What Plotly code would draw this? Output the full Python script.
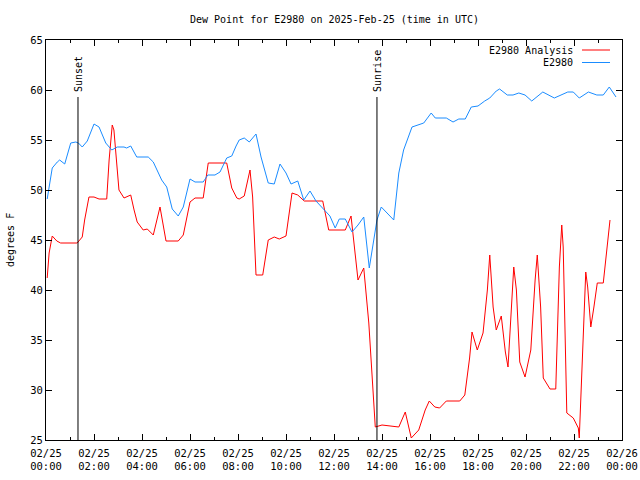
import pandas as pd
import plotly.graph_objects as go

# ---- data (hours after 2025-02-25 00:00 UTC, dew point degF) ----
obs_hours = [0.05, 0.26, 0.47, 0.57, 0.78, 0.92, 1.03, 1.24, 1.35, 1.51, 1.72, 2.0, 2.21, 2.49,
             2.74, 2.97, 3.25, 3.36, 3.53, 3.78, 4.26, 4.47, 4.68, 4.82, 5.03, 5.26, 5.51, 5.72,
             6.0, 6.21, 6.55, 6.74, 7.04, 7.25, 7.53, 7.74, 7.92, 8.05, 8.26, 8.47, 8.75, 8.96,
             9.26, 9.51, 9.75, 10.0, 10.21, 10.49, 10.74, 11.0, 11.25, 11.55, 11.83, 12.05, 12.22,
             12.47, 12.75, 13.0, 13.24, 13.47, 13.65, 13.79, 13.97, 14.49, 14.70, 14.90, 15.25,
             15.74, 16.05, 16.22, 16.68, 16.96, 17.2, 17.47, 17.72, 18.0, 18.28, 18.49, 18.76,
             18.9, 19.22, 19.46, 19.7, 19.96, 20.24, 20.7, 21.18, 21.74, 21.97, 22.22, 22.6,
             22.95, 23.22, 23.47, 23.75]
obs_values = [49.1, 52.2, 52.8, 53.0, 52.6, 53.8, 54.7, 54.8, 54.7, 54.3, 54.9, 56.6, 56.3, 54.7,
              54.0, 54.3, 54.3, 54.2, 54.4, 53.3, 53.3, 52.8, 51.7, 51.0, 50.3, 48.1, 47.4, 48.3,
              51.1, 50.8, 50.8, 51.5, 51.5, 51.8, 53.2, 53.4, 54.4, 55.0, 55.2, 54.8, 55.6, 53.3,
              50.7, 50.6, 52.6, 51.7, 50.6, 50.9, 49.0, 49.9, 48.9, 48.1, 47.4, 46.2, 47.1,
              47.1, 45.8, 46.5, 47.3, 42.2, 45.0, 47.0, 48.3, 47.0, 51.7, 54.0, 56.3,
              56.7, 57.7, 57.2, 57.2, 56.8, 57.1, 57.1, 58.3, 58.4, 58.9, 59.2, 59.9,
              60.1, 59.5, 59.5, 59.7, 59.5, 58.9, 59.8, 59.2, 59.8, 59.8, 59.2, 59.8,
              59.5, 59.5, 60.3, 59.3]

ana_hours = [0.05, 0.13, 0.26, 0.45, 0.61, 1.30, 1.51, 1.61, 1.79, 2.0, 2.21, 2.53, 2.63, 2.76,
             2.83, 2.95, 3.04, 3.25, 3.53, 3.67, 3.80, 4.05, 4.22, 4.47, 4.75, 5.0, 5.51, 5.72,
             6.0, 6.21, 6.55, 6.76, 7.53, 7.74, 7.95, 8.05, 8.26, 8.5, 8.61, 8.75, 9.03, 9.26,
             9.51, 9.72, 10.0, 10.25, 10.49, 10.76, 11.53, 11.78, 12.47, 12.71, 12.82, 13.0,
             13.24, 13.45, 13.65, 13.72, 14.0, 14.70, 14.97, 15.22, 15.53, 15.80, 15.97, 16.2,
             16.4, 16.68, 17.24, 17.45, 17.65, 17.75, 17.97, 18.21, 18.39, 18.49, 18.63, 18.76,
             18.97, 19.14, 19.25, 19.36, 19.49, 19.6, 19.74, 19.96, 20.2, 20.38, 20.47, 20.61,
             20.72, 21.0, 21.24, 21.39, 21.49, 21.55, 21.7, 21.97, 22.18, 22.22, 22.29, 22.39,
             22.49, 22.57, 22.7, 22.83, 22.97, 23.22, 23.39, 23.5]
ana_values = [41.2, 43.7, 45.4, 44.9, 44.7, 44.7, 45.3, 47.0, 49.3, 49.3, 49.1, 49.1, 53.0, 56.5,
              56.0, 52.7, 50.0, 49.2, 49.5, 48.0, 46.8, 46.0, 46.1, 45.5, 48.3, 44.9, 44.9, 45.5,
              48.8, 49.2, 49.2, 52.7, 52.7, 50.2, 49.2, 49.1, 49.4, 52.0, 49.3, 41.5, 41.5, 45.0,
              45.3, 45.1, 45.4, 49.7, 49.5, 48.9, 48.9, 46.0, 46.0, 47.4, 45.0, 41.0,
              42.2, 36.7, 29.0, 26.3, 26.5, 26.3, 27.8, 25.2, 26.0, 28.0, 28.9, 28.3,
              28.2, 28.9, 28.9, 29.5, 33.2, 35.8, 34.0, 35.7, 40.0, 43.5, 38.3, 36.0,
              37.4, 33.8, 32.3, 37.3, 42.3, 40.0, 32.8, 31.3, 34.0, 41.0, 43.5, 38.3,
              31.2, 30.1, 30.1, 42.3, 46.5, 44.3, 27.7, 27.2, 26.2, 25.2, 29.3, 35.0,
              41.8, 40.3, 36.3, 38.3, 40.7, 40.7, 44.3, 47.0]

events = ["Sunset", "Sunrise"]
event_hours = [1.333, 13.79]

series_names = ["E2980 Analysis", "E2980"]
series_colors = ["#ff0000", "#1a8cff"]

base = pd.Timestamp("2025-02-25 00:00")
def to_time(hours):
    return [base + pd.Timedelta(hours=h) for h in hours]

FONT = "DejaVu Sans Mono"
L, R, T, B = 46, 18, 40, 40
W, H = 640, 480
PW, PH = W - L - R, H - T - B

def px(xp):
    return (xp - L) / PW

def py(yp):
    return (H - B - yp) / PH

fig = go.Figure()
fig.add_trace(go.Scatter(x=to_time(ana_hours), y=ana_values, mode="lines",
                         name=series_names[0], line=dict(color=series_colors[0], width=1)))
fig.add_trace(go.Scatter(x=to_time(obs_hours), y=obs_values, mode="lines",
                         name=series_names[1], line=dict(color=series_colors[1], width=1)))

shapes = []
annotations = []
for name, h in zip(events, event_hours):
    t = base + pd.Timedelta(hours=h)
    shapes.append(dict(type="line", xref="x", yref="y", x0=t, x1=t, y0=25, y1=59.3,
                       line=dict(color="black", width=1)))
    annotations.append(dict(x=t, y=59.6, xref="x", yref="y", text=name, textangle=-90,
                            showarrow=False, xanchor="center", yanchor="bottom",
                            font=dict(family=FONT, size=10, color="black")))

# legend (text right, sample line on right like the reference)
for i, (nm, col) in enumerate(zip(series_names, series_colors)):
    ypix = 50 + i * 12.5
    annotations.append(dict(x=px(575), y=py(ypix), xref="paper", yref="paper", text=nm,
                            showarrow=False, xanchor="right", yanchor="middle",
                            font=dict(family=FONT, size=10, color="black")))
    shapes.append(dict(type="line", xref="paper", yref="paper", x0=px(582), x1=px(610),
                       y0=py(ypix), y1=py(ypix), line=dict(color=col, width=1)))

annotations.append(dict(x=0.5, y=py(20), xref="paper", yref="paper",
                        text="Dew Point for E2980 on 2025-Feb-25 (time in UTC)",
                        showarrow=False, xanchor="center", yanchor="middle",
                        font=dict(family=FONT, size=10, color="black")))
annotations.append(dict(x=px(10), y=0.5, xref="paper", yref="paper", text="degrees F",
                        textangle=-90, showarrow=False, xanchor="center", yanchor="middle",
                        font=dict(family=FONT, size=10, color="black")))

fig.update_layout(
    width=W, height=H,
    margin=dict(l=L, r=R, t=T, b=B, autoexpand=False),
    paper_bgcolor="white", plot_bgcolor="white",
    showlegend=False,
    font=dict(family=FONT, size=10, color="black"),
    shapes=shapes, annotations=annotations,
)
fig.update_xaxes(
    type="date", automargin=False,
    range=[base, base + pd.Timedelta(hours=24)],
    dtick=2 * 3600 * 1000, tick0=base,
    tickformat="%m/%d<br>%H:%M",
    ticks="inside", ticklen=6, tickcolor="black",
    ticklabelstandoff=3,
    minor=dict(dtick=3600 * 1000, ticks="inside", ticklen=3, tickcolor="black"),
    showline=True, linecolor="black", linewidth=1, mirror="ticks",
    showgrid=False, zeroline=False,
    tickfont=dict(family=FONT, size=10.5),
)
fig.update_yaxes(
    automargin=False,
    range=[25, 65], dtick=5, tick0=25,
    ticks="inside", ticklen=6, tickcolor="black",
    showline=True, linecolor="black", linewidth=1, mirror="ticks",
    showgrid=False, zeroline=False,
    tickfont=dict(family=FONT, size=10.5),
)

fig.write_html("out.html", config={"displayModeBar": False},
               post_script="document.body.style.margin='0';document.body.style.overflow='hidden';")
